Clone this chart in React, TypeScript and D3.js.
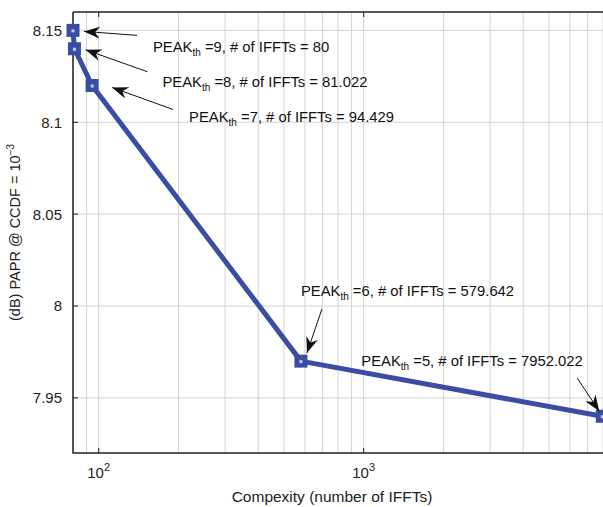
import * as d3 from "d3";

// IFFT counts and PAPR for each PEAK threshold
const peakTh = [9, 8, 7, 6, 5];
const numIffts = [80, 81.022, 94.429, 579.642, 7952.022];
const papr = [8.15, 8.14, 8.12, 7.97, 7.94];
const yTicks = [7.95, 8, 8.05, 8.1, 8.15];
const xMajor = [100, 1000];

// annotation placement relative to each point (px): text anchor, arrow tail, arrow tip
const annot = [
  { tx: 80, ty: 22, ax: 64, ay: 5, hx: 11, hy: 1 },
  { tx: 88, ty: 38, ax: 73, ay: 23, hx: 11, hy: 1 },
  { tx: 97, ty: 36, ax: 81, ay: 24, hx: 20, hy: 2 },
  { tx: 0, ty: -65, ax: 21, ay: -52, hx: 6, hy: -8 },
  { tx: -241, ty: -50, ax: -25, ay: -38, hx: -3, hy: -5 },
];

const W = 603;
const H = 507;
const m = { left: 73, right: 0, top: 12, bottom: 54 };
const blue = "#3a4da3";
const font = "'Liberation Sans', Arial, Helvetica, sans-serif";

export default function App() {
  const x = d3.scaleLog().domain([80, 8000]).range([m.left, W - m.right]);
  const y = d3.scaleLinear().domain([7.92, 8.16]).range([H - m.bottom, m.top]);
  const minor: number[] = [];
  [10, 100, 1000].forEach((d) => {
    for (let k = 1; k < 10; k++) {
      const v = d * k;
      if (v >= 80 && v <= 8000) minor.push(v);
    }
  });
  const line = d3
    .line<number>()
    .x((_, i) => x(numIffts[i]))
    .y((d) => y(d));
  const x0 = m.left;
  const x1 = W - m.right;
  const y0 = H - m.bottom;
  const y1 = m.top;

  return (
    <div style={{ position: "absolute", left: 0, top: 0 }}>
      <svg width={W} height={H} style={{ display: "block", background: "#fff" }} fontFamily={font}>
        <defs>
          <marker id="ah" viewBox="0 0 16 12" refX="16" refY="6" markerWidth="16" markerHeight="12" markerUnits="userSpaceOnUse" orient="auto">
            <path d="M0,0 L16,6 L0,12 L5,6 Z" fill="#111" />
          </marker>
        </defs>
        {minor.map((v) => (
          <line key={"gx" + v} x1={x(v)} x2={x(v)} y1={y0} y2={y1} stroke="#d4d4d4" strokeWidth={1} />
        ))}
        {yTicks.map((v) => (
          <line key={"gy" + v} x1={x0} x2={x1} y1={y(v)} y2={y(v)} stroke="#d4d4d4" strokeWidth={1} />
        ))}
        {yTicks.map((v) => (
          <g key={"ty" + v}>
            <line x1={x0} x2={x0 + 5} y1={y(v)} y2={y(v)} stroke="#222" />
            <text x={x0 - 11} y={y(v)} dy="0.36em" textAnchor="end" fontSize={15} fill="#222">
              {String(v)}
            </text>
          </g>
        ))}
        {xMajor.map((v) => (
          <g key={"tx" + v}>
            <line x1={x(v)} x2={x(v)} y1={y0} y2={y0 - 5} stroke="#222" />
            <line x1={x(v)} x2={x(v)} y1={y1} y2={y1 + 5} stroke="#222" />
            <text x={x(v)} y={y0 + 25} textAnchor="middle" fontSize={15} fill="#222">
              10<tspan dy={-7} fontSize={11}>{Math.round(Math.log10(v))}</tspan>
            </text>
          </g>
        ))}
        <path d={`M${x0},${y1} H${x1 + 1} M${x0},${y1} V${y0} H${x1 + 1}`} fill="none" stroke="#222" strokeWidth={1.5} />
        <path d={line(papr) ?? ""} fill="none" stroke={blue} strokeWidth={5} strokeLinejoin="round" />
        {papr.map((v, i) => (
          <g key={"m" + i}>
            <rect x={x(numIffts[i]) - 6.5} y={y(v) - 6.5} width={13} height={13} fill={blue} />
            <rect x={x(numIffts[i]) - 1.5} y={y(v) - 1} width={3} height={3} fill="#c9cfea" />
          </g>
        ))}
        {papr.map((v, i) => {
          const px = x(numIffts[i]);
          const py = y(v);
          const a = annot[i];
          return (
            <g key={"a" + i}>
              <line x1={px + a.ax} y1={py + a.ay} x2={px + a.hx} y2={py + a.hy} stroke="#111" strokeWidth={1} markerEnd="url(#ah)" />
              <text x={px + a.tx} y={py + a.ty} fontSize={14.8} fill="#111">
                PEAK<tspan dy={4} fontSize={10}>th</tspan>
                <tspan dy={-4}>{` =${peakTh[i]}, # of IFFTs = ${numIffts[i]}`}</tspan>
              </text>
            </g>
          );
        })}
        <text x={332} y={H - 5} textAnchor="middle" fontSize={15.5} fill="#222">
          Compexity (number of IFFTs)
        </text>
        <text transform={`translate(20,${(y0 + y1) / 2}) rotate(-90)`} textAnchor="middle" fontSize={14.5} fill="#222">
          (dB) PAPR @ CCDF = 10<tspan dy={-6} fontSize={10}>−3</tspan>
        </text>
      </svg>
    </div>
  );
}
